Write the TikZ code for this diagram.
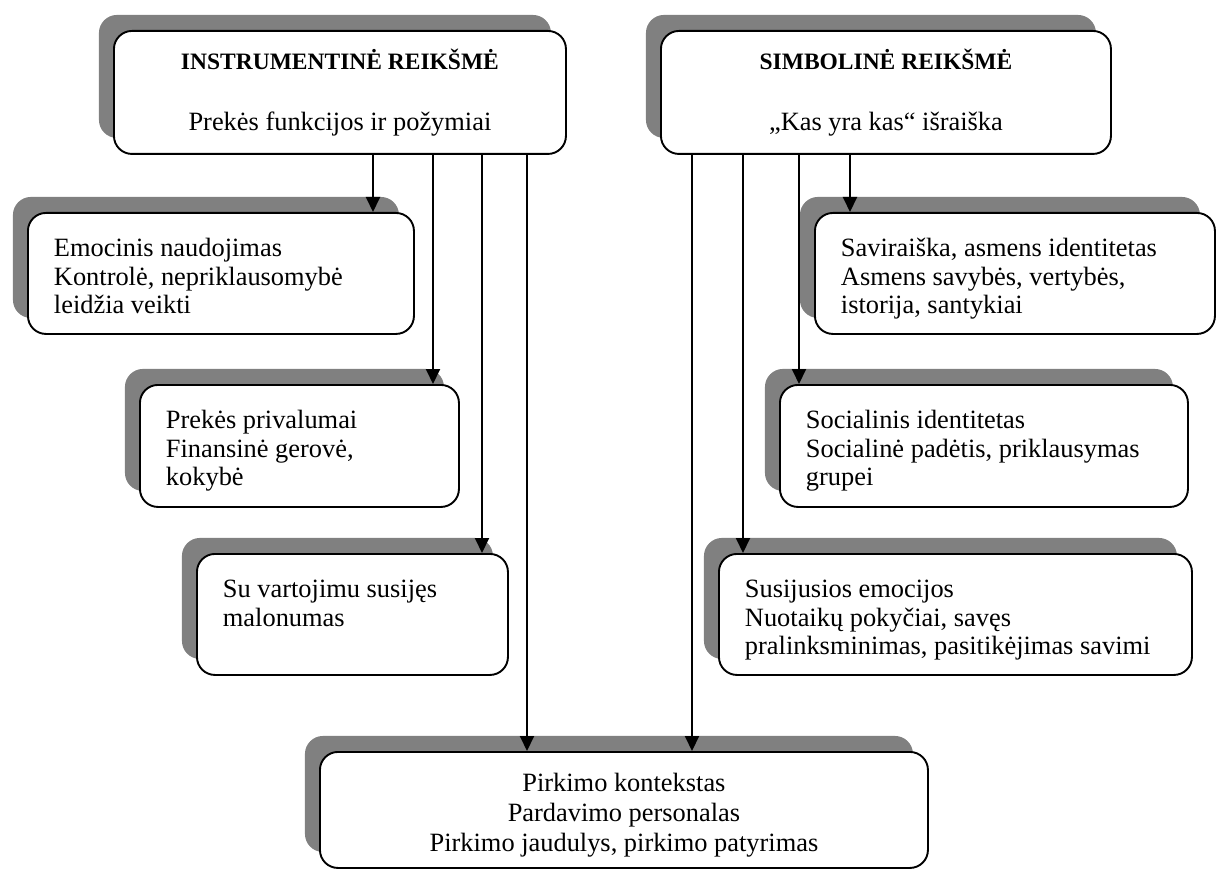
\documentclass[tikz,border=0pt]{standalone}
\usepackage{fontspec}
\setmainfont{Liberation Serif}
\usetikzlibrary{arrows.meta}
\definecolor{shadowgray}{HTML}{808080}

% left-aligned, top-aligned text block of a side box: width, height, body
\newcommand\sidetext[3]{\parbox[c][#2][t]{#1}{\raggedright\fontsize{26.4}{28.5}\selectfont\vspace*{24pt}\strut#3}}
% heading box: width, height, bold title, subtitle
\newcommand\headtext[4]{\parbox[c][#2][t]{#1}{\centering\vspace*{18.5pt}{\fontsize{23.5}{27}\selectfont\bfseries\strut#3\par}\vspace{32pt}\fontsize{26.4}{28.5}\selectfont\strut#4}}
% centred block of the bottom box: width, height, body
\newcommand\basetext[3]{\parbox[c][#2][t]{#1}{\centering\fontsize{26.4}{30}\selectfont\vspace*{19pt}\strut#3}}

\begin{document}
\begin{tikzpicture}[x=1pt,y=-1pt,
  cell/.style={draw, line width=1.9pt, rounded corners=18pt, fill=white,
    anchor=north west, inner xsep=26pt, inner ysep=0pt,
    preaction={fill=shadowgray, draw=none,
      transform canvas={shift={(-15pt,16pt)}}}},
  link/.style={line width=2pt, -{Triangle[width=14pt,length=15pt]}}]
\useasboundingbox (0,0) rectangle (1221,869);

% heading boxes
\node[cell] (instr) at (113,30) {\headtext{400pt}{123pt}{INSTRUMENTINĖ REIKŠMĖ}{Prekės funkcijos ir požymiai}};
\node[cell] (simb) at (660,30) {\headtext{398pt}{123pt}{SIMBOLINĖ REIKŠMĖ}{„Kas yra kas“ išraiška}};

% instrumental side
\node[cell] (emo) at (27,212) {\sidetext{334pt}{121pt}{Emocinis naudojimas\\Kontrolė, nepriklausomybė\\leidžia veikti}};
\node[cell] (priv) at (139,384) {\sidetext{267pt}{122pt}{Prekės privalumai\\Finansinė gerovė,\\kokybė}};
\node[cell] (vart) at (196,553) {\sidetext{259pt}{121pt}{Su vartojimu susijęs\\malonumas}};

% symbolic side
\node[cell] (savi) at (814,212) {\sidetext{348pt}{121pt}{Saviraiška, asmens identitetas\\Asmens savybės, vertybės,\\istorija, santykiai}};
\node[cell] (soc) at (779,384) {\sidetext{356pt}{122pt}{Socialinis identitetas\\Socialinė padėtis, priklausymas\\grupei}};
\node[cell] (emocij) at (718,553) {\sidetext{421pt}{121pt}{Susijusios emocijos\\Nuotaikų pokyčiai, savęs\\pralinksminimas, pasitikėjimas savimi}};

% purchase context
\node[cell] (pirk) at (319,751) {\basetext{556pt}{116pt}{Pirkimo kontekstas\\Pardavimo personalas\\Pirkimo jaudulys, pirkimo patyrimas}};

% arrow columns
\coordinate (l1) at (373,0);
\coordinate (l2) at (433,0);
\coordinate (l3) at (482,0);
\coordinate (l4) at (527,0);
\coordinate (r1) at (692,0);
\coordinate (r2) at (743,0);
\coordinate (r3) at (799,0);
\coordinate (r4) at (850,0);

\draw[link] (instr.south -| l1) -- (emo.north -| l1);
\draw[link] (instr.south -| l2) -- (priv.north -| l2);
\draw[link] (instr.south -| l3) -- (vart.north -| l3);
\draw[link] (instr.south -| l4) -- (pirk.north -| l4);
\draw[link] (simb.south -| r1) -- (pirk.north -| r1);
\draw[link] (simb.south -| r2) -- (emocij.north -| r2);
\draw[link] (simb.south -| r3) -- (soc.north -| r3);
\draw[link] (simb.south -| r4) -- (savi.north -| r4);
\end{tikzpicture}
\end{document}
